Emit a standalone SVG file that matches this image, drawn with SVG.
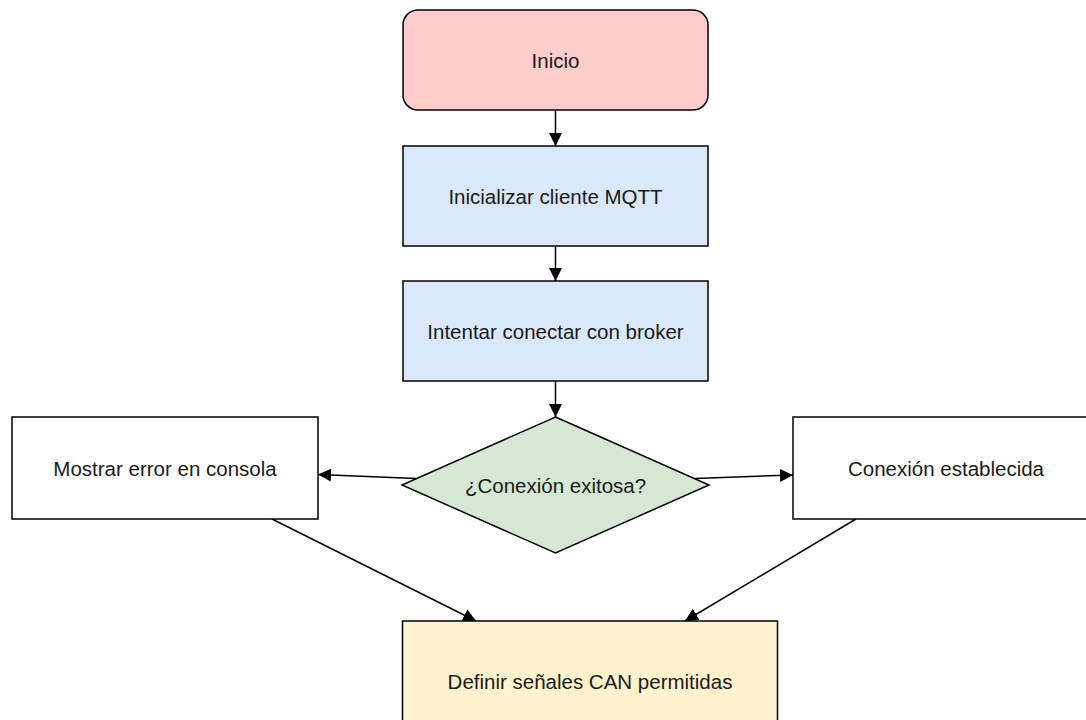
<svg xmlns="http://www.w3.org/2000/svg" width="1086" height="720" viewBox="0 0 1086 720">
  <defs>
    <marker id="arrow" viewBox="0 0 10 10" refX="10" refY="5" markerWidth="13" markerHeight="13" markerUnits="userSpaceOnUse" orient="auto">
      <path d="M0,0 L10,5 L0,10 Z" fill="#000"/>
    </marker>
    <style>
      .box { stroke: #000; stroke-width: 1.5; }
      .lbl { font-family: "Liberation Sans", Arial, sans-serif; font-size: 20.5px; fill: #1a1a1a; text-anchor: middle; dominant-baseline: central; }
      .edge { fill: none; stroke: #000; stroke-width: 1.5; marker-end: url(#arrow); }
    </style>
  </defs>
  <rect width="1086" height="720" fill="#fff"/>

  <g id="connectors">
    <line class="edge" x1="555.5" y1="110" x2="555.5" y2="146"/>
    <line class="edge" x1="555.5" y1="246" x2="555.5" y2="281"/>
    <line class="edge" x1="555.5" y1="381" x2="555.5" y2="417"/>
    <line class="edge" x1="416" y1="478.5" x2="318" y2="474.5"/>
    <line class="edge" x1="695" y1="478.5" x2="793" y2="475"/>
    <line class="edge" x1="272" y1="519" x2="476" y2="621"/>
    <line class="edge" x1="856" y1="519" x2="685" y2="621"/>
  </g>

  <g id="inicio">
    <rect class="box" x="403" y="10" width="305" height="100" rx="15" fill="#ffcccc"/>
    <text class="lbl" x="555.5" y="60">Inicio</text>
  </g>
  <g id="init-client">
    <rect class="box" x="403" y="146" width="305" height="100" fill="#dae8fc"/>
    <text class="lbl" x="555.5" y="196">Inicializar cliente MQTT</text>
  </g>
  <g id="connect-broker">
    <rect class="box" x="403" y="281" width="305" height="100" fill="#dae8fc"/>
    <text class="lbl" x="555.5" y="331">Intentar conectar con broker</text>
  </g>
  <g id="decision">
    <polygon class="box" points="555.5,417 709,485 555.5,553 402,485" fill="#d5e8d4"/>
    <text class="lbl" x="555.5" y="485">¿Conexión exitosa?</text>
  </g>
  <g id="error">
    <rect class="box" x="12" y="417" width="306" height="102" fill="#fff"/>
    <text class="lbl" x="165" y="468">Mostrar error en consola</text>
  </g>
  <g id="established">
    <rect class="box" x="793" y="417" width="306" height="102" fill="#fff"/>
    <text class="lbl" x="946" y="468">Conexión establecida</text>
  </g>
  <g id="signals">
    <rect class="box" x="402.5" y="621" width="375" height="120" fill="#fff2cc"/>
    <text class="lbl" x="590" y="681">Definir señales CAN permitidas</text>
  </g>
</svg>
